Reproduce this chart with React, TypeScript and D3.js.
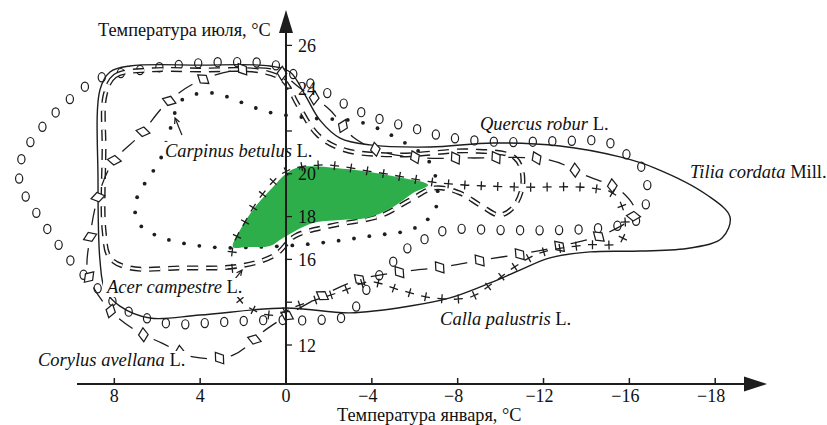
import React, { useEffect, useRef } from "react";
import * as d3 from "d3";

type P = [number, number];

// Axis ticks (January temperature, July temperature)
const xTickValues = [8, 4, 0, -4, -8, -12, -16, -20];
const xTickLabels = ["8", "4", "0", "−4", "−8", "−12", "−16", "−18"];
const yTickValues = [12, 14, 16, 18, 20, 22, 24, 26];
const yTickLabels = ["12", "", "16", "18", "20", "", "24", "26"];

// Species ranges: [January °C, July °C]
const tiliaCordata: P[] = [
  [8.76, 19.71], [8.67, 23.92], [8.2, 24.76], [7.27, 25.04], [4.01, 25.08], [0.75, 25.04],
  [-0.19, 24.76], [-0.89, 23.68], [-1.58, 22.51], [-2.52, 21.67], [-3.91, 21.35], [-6.71, 21.25],
  [-9.65, 21.44], [-12.77, 21.3], [-15.56, 20.79], [-17.19, 20.27], [-19.62, 19.01], [-20.69, 17.98],
  [-20.32, 17.0], [-18.83, 16.53], [-16.5, 16.39], [-14.17, 16.35], [-12.3, 16.07], [-10.9, 15.5],
  [-9.51, 14.9], [-7.64, 14.2], [-5.78, 13.82], [-2.98, 13.5], [0, 13.73], [4.01, 13.4],
  [6.34, 13.26], [7.74, 13.82], [8.43, 14.57], [8.67, 15.97],
];

const quercusRobur: P[] = [
  [8.81, 24.43], [6.8, 24.85], [4.47, 25.13], [2.61, 25.22], [0.51, 25.08], [-0.65, 24.48],
  [-1.68, 23.92], [-2.98, 23.12], [-4.52, 22.51], [-5.92, 22.14], [-7.5, 21.72], [-9.97, 21.49],
  [-12.77, 21.53], [-14.96, 21.49], [-15.7, 21.02], [-16.5, 20.41], [-16.82, 19.57], [-16.82, 18.78],
  [-16.36, 17.84], [-14.96, 17.51], [-12.77, 17.37], [-9.97, 17.37], [-7.5, 17.37], [-6.38, 16.91],
  [-5.55, 16.44], [-4.85, 15.74], [-3.91, 14.8], [-2.89, 13.4], [-1.58, 13.17], [0.75, 13.17],
  [3.08, 13.07], [5.31, 12.98], [6.66, 13.31], [7.64, 13.73], [9.74, 15.6], [10.86, 17.05],
  [11.93, 18.64], [12.4, 19.48], [12.3, 20.79], [11.84, 21.58], [10.76, 22.84], [9.51, 23.96],
];

const carpinusBetulus: P[] = [
  [4.85, 23.45], [3.45, 23.78], [2.14, 23.36], [0.84, 22.89], [-1.12, 22.61], [-3.45, 22.42],
  [-5.31, 21.58], [-6.62, 20.64], [-7.04, 19.48], [-6.94, 18.31], [-6.01, 17.47], [-3.91, 17.09],
  [-1.12, 16.72], [1.21, 16.58], [3.54, 16.58], [5.73, 17.0], [6.8, 17.61], [7.04, 18.54],
  [6.57, 19.57], [5.87, 20.64], [5.41, 22.05],
];

const acerCampestre: P[] = [
  [8.43, 23.68], [7.97, 24.57], [6.34, 24.85], [4.01, 24.85], [1.21, 24.8], [0.14, 24.38],
  [-0.56, 23.21], [-1.49, 21.81], [-2.75, 21.11], [-5.31, 20.88], [-8.57, 21.07], [-10.67, 20.74],
  [-11.04, 19.71], [-10.67, 18.54], [-9.97, 18.07], [-9.04, 18.54], [-8.11, 19.1], [-6.94, 19.34],
  [-5.78, 18.78], [-4.38, 18.03], [-2.05, 17.56], [-0.42, 17.09], [0.51, 16.21], [2.14, 15.69],
  [4.94, 15.6], [7.27, 15.6], [8.2, 16.07], [8.48, 17.37], [8.48, 21.11],
];

const corylusAvellana: P[] = [
  [9.23, 15.36], [9.13, 17.05], [8.76, 18.92], [8.06, 20.55], [6.8, 21.81], [5.55, 23.31],
  [4.15, 24.29], [2.28, 24.85], [0.51, 24.85], [-0.65, 24.01], [-2.05, 22.98], [-3.12, 21.72],
  [-4.52, 21.02], [-6.48, 20.74], [-8.57, 20.74], [-12.3, 20.64], [-13.93, 19.94], [-15.66, 19.15],
  [-16.26, 18.17], [-14.96, 17.23], [-13.0, 16.67], [-11.23, 16.3], [-9.13, 15.97], [-7.27, 15.64],
  [-5.31, 15.41], [-3.36, 15.04], [-1.49, 14.2], [0.84, 12.79], [2.47, 11.53], [4.33, 11.44],
  [5.78, 12.09], [7.04, 12.7], [8.34, 13.78],
];

const callaPalustris: P[] = [
  [2.47, 16.58], [1.91, 17.75], [1.12, 19.01], [0.05, 20.08], [-1.58, 20.41], [-4.38, 20.04],
  [-7.18, 19.57], [-10.9, 19.38], [-14.17, 19.34], [-15.33, 19.01], [-15.8, 17.84], [-15.56, 16.81],
  [-13.93, 16.67], [-11.84, 16.3], [-10.58, 15.6], [-9.65, 14.9], [-8.57, 14.24], [-6.85, 14.2],
  [-5.31, 14.57], [-3.91, 14.94], [-2.52, 14.48], [-0.65, 13.87], [0.75, 13.4], [2.14, 14.1],
  [2.47, 15.27],
];

// Common zone (filled green)
const optimumZone: P[] = [
  [2.47, 16.58], [2.14, 17.37], [1.44, 18.45], [0.65, 19.34], [-0.05, 20.04], [-0.65, 20.32],
  [-2.84, 20.22], [-5.17, 19.85], [-6.62, 19.48], [-5.92, 19.1], [-4.99, 18.45], [-3.77, 17.93],
  [-2.52, 17.84], [-1.26, 17.7], [-0.51, 17.37], [0.14, 17.0], [0.75, 16.63], [1.82, 16.58],
];

const speciesNames = ["Carpinus betulus", "Quercus robur", "Tilia cordata", "Acer campestre", "Corylus avellana", "Calla palustris"];
const speciesAuthors = ["L.", "L.", "Mill.", "L.", "L.", "L."];
const labelAnchors: P[] = [[5.64, 20.79], [-9.04, 22.05], [-18.83, 19.8], [8.34, 14.43], [11.56, 11.02], [-7.18, 12.93]];

// label pointer arrows [from, to]
const pointerArrows: [P, P][] = [
  [[4.85, 21.81], [5.17, 22.61]],
  [[2.52, 14.9], [2.05, 15.5]],
];

export default function App() {
  const ref = useRef<SVGSVGElement>(null);

  useEffect(() => {
    const svg = d3.select(ref.current as SVGSVGElement);
    svg.selectAll("*").remove();
    const ink = "#1d1d1d";
    const font = "'Liberation Serif', 'Times New Roman', serif";

    const x = d3.scaleLinear().domain([0, -20]).range([286, 715.2]);
    const y = d3.scaleLinear().domain([12, 26]).range([345, 45.4]);

    const closed = d3
      .line<P>()
      .x((d) => x(d[0]))
      .y((d) => y(d[1]))
      .curve(d3.curveCatmullRomClosed.alpha(0.5));

    svg.append("rect").attr("width", 827).attr("height", 425).attr("fill", "#ffffff");
    const g = svg.append("g");

    function sample(node: SVGPathElement, approxStep: number) {
      const L = node.getTotalLength();
      const n = Math.max(1, Math.round(L / approxStep));
      const st = L / n;
      const pts: { x: number; y: number; a: number }[] = [];
      for (let i = 0; i < n; i++) {
        const s = i * st;
        const p = node.getPointAtLength(s);
        const p0 = node.getPointAtLength(Math.max(0, s - 1));
        const p1 = node.getPointAtLength(Math.min(L, s + 1));
        pts.push({ x: p.x, y: p.y, a: (Math.atan2(p1.y - p0.y, p1.x - p0.x) * 180) / Math.PI });
      }
      return { pts, st };
    }

    // Tilia cordata — solid line
    g.append("path").attr("d", closed(tiliaCordata)).attr("fill", "none").attr("stroke", ink).attr("stroke-width", 1.4);

    // Quercus robur — open circles
    const qPath = g.append("path").attr("d", closed(quercusRobur)).attr("fill", "none").attr("stroke", "none");
    const qs = sample(qPath.node() as SVGPathElement, 19.5);
    g.selectAll(".q").data(qs.pts).join("ellipse")
      .attr("cx", (d) => d.x).attr("cy", (d) => d.y)
      .attr("rx", 3.6).attr("ry", 4.6)
      .attr("fill", "none").attr("stroke", ink).attr("stroke-width", 1.2);

    // Carpinus betulus — dots
    const cPath = g.append("path").attr("d", closed(carpinusBetulus)).attr("fill", "none").attr("stroke", "none");
    const cs = sample(cPath.node() as SVGPathElement, 15.5);
    g.selectAll(".c").data(cs.pts).join("circle")
      .attr("cx", (d) => d.x).attr("cy", (d) => d.y).attr("r", 1.9).attr("fill", ink);

    // Acer campestre — double dashes
    g.append("path").attr("d", closed(acerCampestre)).attr("fill", "none")
      .attr("stroke", ink).attr("stroke-width", 5).attr("stroke-dasharray", "11 8");
    g.append("path").attr("d", closed(acerCampestre)).attr("fill", "none")
      .attr("stroke", "#ffffff").attr("stroke-width", 2.2).attr("stroke-dasharray", "11 8");

    // Corylus avellana — dash + diamond
    const kPath = g.append("path").attr("d", closed(corylusAvellana)).attr("fill", "none").attr("stroke", ink).attr("stroke-width", 1.3);
    const ks = sample(kPath.node() as SVGPathElement, 40);
    const gap = 12;
    kPath.attr("stroke-dasharray", `0 ${gap} ${ks.st - 2 * gap} ${gap}`);
    g.selectAll(".k").data(ks.pts).join("path")
      .attr("d", "M-7,0L0,-4.8L7,0L0,4.8Z")
      .attr("transform", (d) => `translate(${d.x},${d.y}) rotate(${d.a + 60})`)
      .attr("fill", "#ffffff").attr("stroke", ink).attr("stroke-width", 1.25);

    // green common zone
    g.append("path").attr("d", closed(optimumZone)).attr("fill", "#2dae4b").attr("stroke", "none");

    // Calla palustris — plus marks
    const pPath = g.append("path").attr("d", closed(callaPalustris)).attr("fill", "none").attr("stroke", "none");
    const ps = sample(pPath.node() as SVGPathElement, 16.5);
    g.selectAll(".p").data(ps.pts).join("path")
      .attr("d", "M-4.5,0H4.5M0,-4.5V4.5")
      .attr("transform", (d) => `translate(${d.x},${d.y}) rotate(${d.a})`)
      .attr("fill", "none").attr("stroke", ink).attr("stroke-width", 1.3);

    // pointer arrows
    pointerArrows.forEach(([a, b]) => {
      const x1 = x(a[0]), y1 = y(a[1]), x2 = x(b[0]), y2 = y(b[1]);
      const ang = Math.atan2(y2 - y1, x2 - x1);
      g.append("line").attr("x1", x1).attr("y1", y1).attr("x2", x2).attr("y2", y2)
        .attr("stroke", ink).attr("stroke-width", 1.2);
      const hl = 6;
      g.append("path")
        .attr("d", `M${x2 - hl * Math.cos(ang - 0.45)},${y2 - hl * Math.sin(ang - 0.45)}L${x2},${y2}L${x2 - hl * Math.cos(ang + 0.45)},${y2 - hl * Math.sin(ang + 0.45)}`)
        .attr("fill", "none").attr("stroke", ink).attr("stroke-width", 1.2);
    });

    // species labels on white
    const lg = svg.append("g");
    speciesNames.forEach((name, i) => {
      const grp = lg.append("g");
      const t = grp.append("text")
        .attr("x", x(labelAnchors[i][0])).attr("y", y(labelAnchors[i][1]))
        .attr("font-family", font).attr("font-size", 18.5).attr("fill", "#111");
      t.append("tspan").attr("font-style", "italic").text(name);
      t.append("tspan").text(" " + speciesAuthors[i]);
      const bb = (t.node() as SVGTextElement).getBBox();
      grp.insert("rect", "text").attr("x", bb.x - 2).attr("y", bb.y + 1).attr("width", bb.width + 4).attr("height", bb.height - 1).attr("fill", "#ffffff");
    });

    // axes
    const ag = svg.append("g");
    const x0 = x(0), yAxisY = 384;
    ag.append("line").attr("x1", 77).attr("x2", 750).attr("y1", yAxisY).attr("y2", yAxisY).attr("stroke", ink).attr("stroke-width", 2);
    ag.append("path").attr("d", `M767,${yAxisY}L744,${yAxisY - 7.5}L744,${yAxisY + 7.5}Z`).attr("fill", ink);
    ag.append("line").attr("x1", x0).attr("x2", x0).attr("y1", yAxisY).attr("y2", 28).attr("stroke", ink).attr("stroke-width", 2);
    ag.append("path").attr("d", `M${x0},10L${x0 - 7},33L${x0 + 7},33Z`).attr("fill", ink);

    xTickValues.forEach((v, i) => {
      const px = x(v);
      ag.append("line").attr("x1", px).attr("x2", px).attr("y1", yAxisY - 6).attr("y2", yAxisY).attr("stroke", ink).attr("stroke-width", 1.5);
      ag.append("text").attr("x", px - (v < 0 ? 4 : 0)).attr("y", 402).attr("text-anchor", "middle")
        .attr("font-family", font).attr("font-size", 18).attr("fill", "#111").text(xTickLabels[i]);
    });
    yTickValues.forEach((v, i) => {
      const py = y(v);
      ag.append("line").attr("x1", x0).attr("x2", x0 + 6).attr("y1", py).attr("y2", py).attr("stroke", ink).attr("stroke-width", 1.3);
      if (yTickLabels[i]) {
        ag.append("text").attr("x", x0 + 12).attr("y", py + 6.5)
          .attr("font-family", font).attr("font-size", 18).attr("fill", "#111").text(yTickLabels[i]);
      }
    });

    ag.append("text").attr("x", 98).attr("y", 36).attr("font-family", font).attr("font-size", 18.3).attr("fill", "#111")
      .text("Температура июля, °C");
    ag.append("text").attr("x", 337).attr("y", 421).attr("font-family", font).attr("font-size", 18.3).attr("fill", "#111")
      .text("Температура января, °C");
  }, []);

  return (
    <svg
      ref={ref}
      width={827}
      height={425}
      style={{ position: "absolute", left: 0, top: 0, display: "block" }}
    />
  );
}
